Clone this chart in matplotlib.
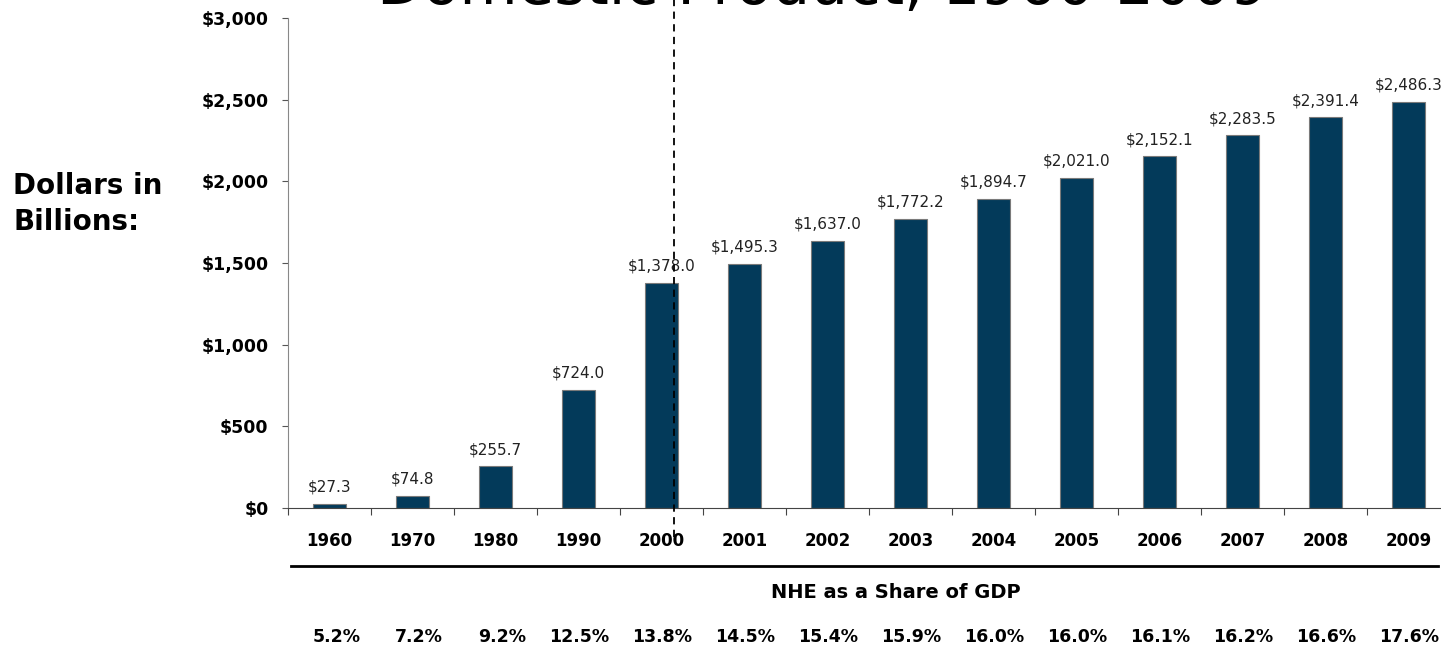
import numpy as np
import matplotlib
matplotlib.use("Agg")
import matplotlib.pyplot as plt

# national health expenditures, billions of dollars
years = ["1960", "1970", "1980", "1990", "2000", "2001", "2002",
         "2003", "2004", "2005", "2006", "2007", "2008", "2009"]
nhe = [27.3, 74.8, 255.7, 724.0, 1378.0, 1495.3, 1637.0,
       1772.2, 1894.7, 2021.0, 2152.1, 2283.5, 2391.4, 2486.3]
# NHE as a share of GDP
gdp_share = ["5.2%", "7.2%", "9.2%", "12.5%", "13.8%", "14.5%", "15.4%",
             "15.9%", "16.0%", "16.0%", "16.1%", "16.2%", "16.6%", "17.6%"]

bar_color = "#033a5a"

fig = plt.figure(figsize=(14.41, 6.47), dpi=100)
W, H = 1441, 647
ax = fig.add_axes([288 / W, (H - 508) / H, 1162 / W, 490 / H])

x = np.arange(len(years))
bars = ax.bar(x, nhe, width=0.4, color=bar_color, edgecolor="#7a7a7a",
              linewidth=0.8, zorder=2)

for xi, v in zip(x, nhe):
    ax.text(xi, v + 55, "${:,.1f}".format(v), ha="center", va="bottom",
            fontsize=11, color="#222222")

ax.set_xlim(-0.5, len(years) - 0.5)
ax.set_ylim(0, 3000)
ax.set_yticks(np.arange(0, 3001, 500))
ax.set_yticklabels(["${:,.0f}".format(t) for t in np.arange(0, 3001, 500)],
                   fontsize=12.5, fontweight="bold")
ax.tick_params(axis="y", direction="out", length=4, width=0.8,
               color="#555555", pad=10)

ax.set_xticks(x)
ax.set_xticklabels(years, fontsize=12, fontweight="bold")
ax.tick_params(axis="x", which="major", length=0, pad=17)
ax.set_xticks(np.arange(-0.5, len(years) - 0.5, 1.0), minor=True)
ax.tick_params(axis="x", which="minor", direction="out", length=5,
               width=0.8, color="#444444")

for side in ["top", "right"]:
    ax.spines[side].set_visible(False)
ax.spines["left"].set_color("#888888")
ax.spines["bottom"].set_color("#444444")

# dashed divider after 2000
ax.axvline(4.15, ymin=-0.06, ymax=1.04, color="black", linestyle=(0, (4, 3)),
           linewidth=1.3, clip_on=False, zorder=3)

# rule and GDP share row under the axis
share_y = ax.get_xaxis_transform()
ax.plot([-0.46, 13.35], [-(566 - 508) / 490] * 2, color="black",
        linewidth=2, clip_on=False, transform=share_y)
ax.text(6.82, -(592 - 508) / 490, "NHE as a Share of GDP", ha="center",
        va="center", fontsize=14, fontweight="bold", transform=share_y)
for xi, s in zip(x, gdp_share):
    ax.text(xi + 0.37, -(637 - 508) / 490, s, ha="right", va="center",
            fontsize=12.5, fontweight="bold", transform=share_y)

fig.text(13 / W, 1 - 204 / H, "Dollars in\nBillions:", ha="left",
         va="center", fontsize=20, fontweight="bold", linespacing=1.4)

fig.text(823 / W, 1 - 4 / H, "Domestic Product, 1960-2009", ha="center",
         va="baseline", fontsize=43)

fig.savefig("out.png", dpi=100)
